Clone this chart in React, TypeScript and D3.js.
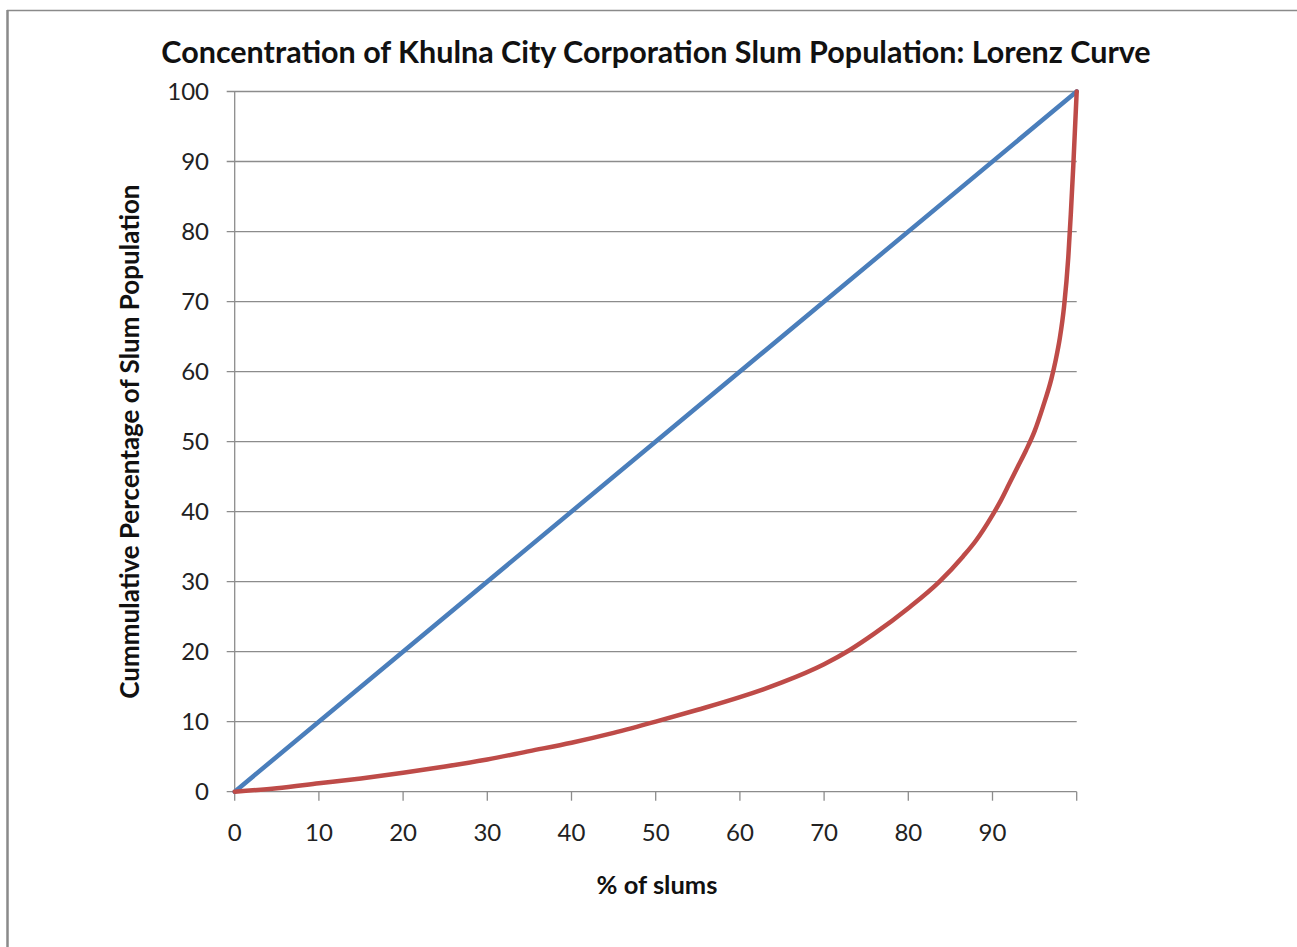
import React from "react";
import * as d3 from "d3";

const title = "Concentration of Khulna City Corporation Slum Population: Lorenz Curve";
const xLabel = "% of slums";
const yLabel = "Cummulative Percentage of Slum Population";

const xTickValues = [0, 10, 20, 30, 40, 50, 60, 70, 80, 90, 100];
const xTickLabels = ["0", "10", "20", "30", "40", "50", "60", "70", "80", "90", ""];
const yTickValues = [0, 10, 20, 30, 40, 50, 60, 70, 80, 90, 100];

const equalityX = [0, 100];
const equalityY = [0, 100];

const lorenzX = [0, 5, 10, 15, 20, 25, 30, 35, 40, 45, 50, 55, 60, 65, 70, 73, 76, 80, 83.7, 86.5, 88, 90, 91, 92, 93, 94, 95, 96, 97, 97.5, 98, 98.5, 99, 99.3, 99.6, 100];
const lorenzY = [0, 0.5, 1.2, 1.9, 2.7, 3.6, 4.6, 5.8, 7.0, 8.4, 10, 11.7, 13.5, 15.6, 18.2, 20.2, 22.6, 26.2, 30, 33.6, 35.8, 39.5, 41.6, 44, 46.4, 48.8, 51.5, 55, 59, 61.6, 64.8, 69.3, 76.3, 82.5, 89.5, 100];

const W = 1297;
const H = 947;
const left = 234.7;
const right = 1076.7;
const top = 91.5;
const bottom = 791.7;

export default function App() {
  const x = d3.scaleLinear().domain([0, 100]).range([left, right]);
  const y = d3.scaleLinear().domain([0, 100]).range([bottom, top]);
  const line = d3
    .line<[number, number]>()
    .x((d) => x(d[0]))
    .y((d) => y(d[1]))
    .curve(d3.curveMonotoneX);
  const eq: [number, number][] = equalityX.map((v, i) => [v, equalityY[i]]);
  const lz: [number, number][] = lorenzX.map((v, i) => [v, lorenzY[i]]);
  const font = "Lato, 'Open Sans', sans-serif";
  const grid = "#8c8c8c";

  return (
    <svg
      width={W}
      height={H}
      style={{ position: "absolute", left: 0, top: 0, background: "#fff" }}
      fontFamily={font}
    >
      <rect x={0} y={0} width={W} height={H} fill="#fff" />
      {/* border */}
      <line x1={7.5} y1={10} x2={7.5} y2={H} stroke="#8a8a8a" strokeWidth={2.5} />
      <line x1={7} y1={10.5} x2={W} y2={10.5} stroke="#8a8a8a" strokeWidth={1.5} />

      {/* horizontal gridlines and y ticks */}
      {yTickValues.map((v) => (
        <g key={"y" + v}>
          <line x1={left - 8} x2={right} y1={y(v)} y2={y(v)} stroke={grid} strokeWidth={1.3} />
          <text
            x={209}
            y={y(v)}
            dy="0.36em"
            textAnchor="end"
            fontSize={24}
            fill="#222"
          >
            {v}
          </text>
        </g>
      ))}
      {/* y axis */}
      <line x1={left} x2={left} y1={top} y2={bottom} stroke={grid} strokeWidth={1.3} />
      {/* x ticks */}
      {xTickValues.map((v, i) => (
        <g key={"x" + v}>
          <line x1={x(v)} x2={x(v)} y1={bottom} y2={bottom + 9} stroke={grid} strokeWidth={1.3} />
          <text x={x(v)} y={841} textAnchor="middle" fontSize={24} fill="#222">
            {xTickLabels[i]}
          </text>
        </g>
      ))}

      {/* series */}
      <path d={line(eq) || ""} fill="none" stroke="#4a7ebb" strokeWidth={4.5} strokeLinecap="round" />
      <path d={line(lz) || ""} fill="none" stroke="#be4b48" strokeWidth={4.5} strokeLinecap="round" strokeLinejoin="round" />

      {/* title */}
      <text x={656} y={63} textAnchor="middle" fontSize={30.5} fontWeight="bold" fill="#111">
        {title}
      </text>
      <text x={657} y={894} textAnchor="middle" fontSize={25.5} fontWeight="bold" fill="#111">
        {xLabel}
      </text>
      <text
        transform={`translate(139, ${(top + bottom) / 2}) rotate(-90)`}
        textAnchor="middle"
        fontSize={26}
        fontWeight="bold"
        fill="#111"
      >
        {yLabel}
      </text>
    </svg>
  );
}
